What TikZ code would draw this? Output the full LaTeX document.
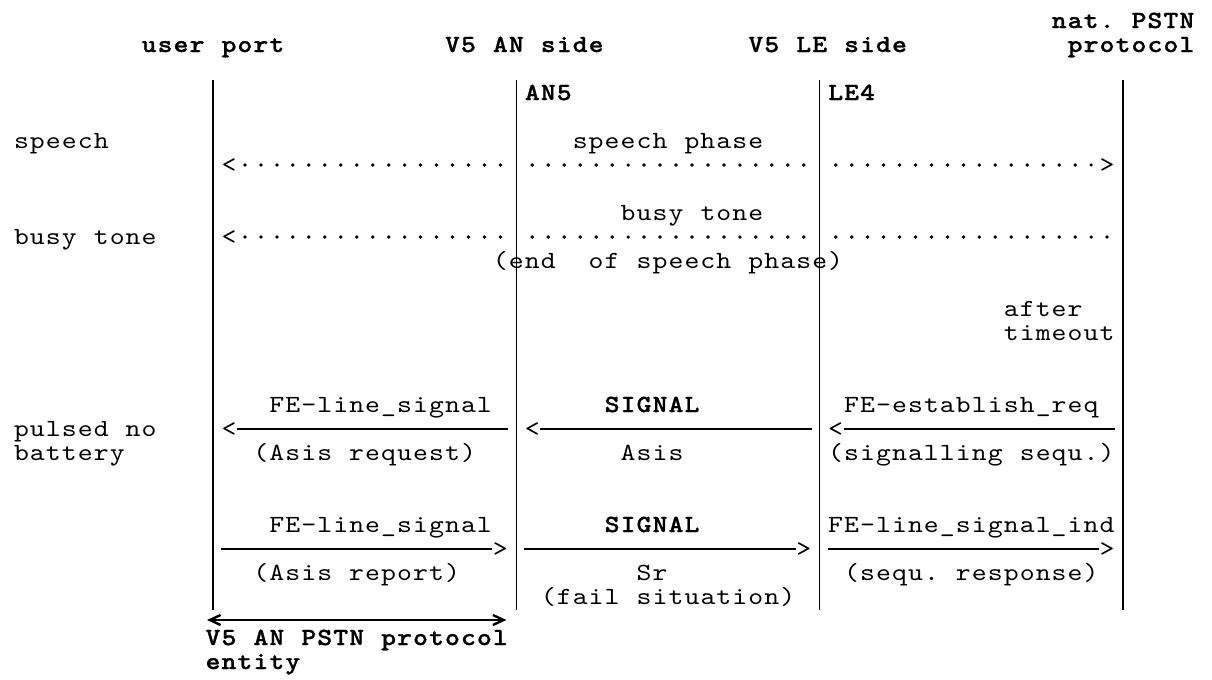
\documentclass[tikz,border=0pt]{standalone}
\usepackage{fontspec}
\usetikzlibrary{calc,arrows.meta}

% typewriter faces, slightly widened to fill the character cells
\newfontfamily\cmono{lmmono10-regular.otf}[FakeStretch=1.15]
\newfontfamily\cmonob{lmmonolt10-bold.otf}[FakeStretch=1.15,FakeBold=1]

% one fixed-width cell per character, so every label sits on a monospace grid
\newdimen\cellw
\cellw=11.974pt
\ExplSyntaxOn
\NewDocumentCommand\mono{m}{\str_map_inline:nn {#1} {\makebox[\cellw]{##1}}}
\ExplSyntaxOff
\newcommand\blankcell{\hspace*{\cellw}}

\tikzset{
  txt/.style={inner sep=0pt, outer sep=0pt, anchor=base west,
              font=\fontsize{18.5}{18.5}\cmono},
  btxt/.style={txt, font=\fontsize{18.5}{18.5}\cmonob},
  lifeline/.style={line width=1.1pt},
  msg/.style={line width=0.95pt},
  dotrow/.style={line width=2.8pt, line cap=round, dash pattern=on 0pt off 11.974pt},
  entityline/.style={line width=2pt,
     {Straight Barb[length=8pt,width=7.5pt,line width=1.8pt]}-{Straight Barb[length=8pt,width=7.5pt,line width=1.8pt]}}
}

\begin{document}
\begin{tikzpicture}[x=0.75pt, y=-0.75pt,
  declare function={cl(\c)=-2.5+15.965*\c; cc(\c)=-2.5+15.965*(\c+0.5);}]
\fill[white] (0,0) rectangle (1212,679);
\useasboundingbox (0,0) rectangle (1212,679);

% column headings
\node[btxt] (hNat)  at ({cl(66)},28) {\mono{nat. PSTN}};
\node[btxt] (hUser) at ({cl(9)},52)  {\mono{user port}};
\node[btxt] (hAN)   at ({cl(28)},52) {\mono{V5 AN side}};
\node[btxt] (hLE)   at ({cl(47)},52) {\mono{V5 LE side}};
\node[btxt] (hProt) at ({cl(67)},52) {\mono{protocol}};

% life lines
\coordinate (uTop) at ({cc(13)},80);  \coordinate (uBot) at ({cc(13)},610);
\coordinate (aTop) at ({cc(32)},80);  \coordinate (aBot) at ({cc(32)},610);
\coordinate (lTop) at ({cc(51)},80);  \coordinate (lBot) at ({cc(51)},610);
\coordinate (pTop) at ({cc(70)},80);  \coordinate (pBot) at ({cc(70)},610);
\draw[lifeline] (uTop) -- (uBot);
\draw[lifeline] (aTop) -- (aBot);
\draw[lifeline] (lTop) -- (lBot);
\draw[lifeline] (pTop) -- (pBot);

\node[btxt] (an5) at ({cl(33)},100) {\mono{AN5}};
\node[btxt] (le4) at ({cl(52)},100) {\mono{LE4}};

% speech phase
\node[txt] (lSpeech) at ({cl(1)},148)  {\mono{speech}};
\node[txt] (tSpeech) at ({cl(36)},148) {\mono{speech phase}};
\node[txt] (spL) at ({cl(14)},172) {\mono{<}};
\node[txt] (spR) at ({cl(69)},172) {\mono{>}};
\coordinate (sp1a) at ({cc(15)},165); \coordinate (sp1b) at ({cc(31)+1},165);
\coordinate (sp2a) at ({cc(33)},165); \coordinate (sp2b) at ({cc(50)+1},165);
\coordinate (sp3a) at ({cc(52)},165); \coordinate (sp3b) at ({cc(68)+1},165);
\draw[dotrow] (sp1a) -- (sp1b);
\draw[dotrow] (sp2a) -- (sp2b);
\draw[dotrow] (sp3a) -- (sp3b);

% busy tone
\node[txt] (tBusy) at ({cl(39)},220) {\mono{busy tone}};
\node[txt] (lBusy) at ({cl(1)},244)  {\mono{busy tone}};
\node[txt] (btL) at ({cl(14)},244) {\mono{<}};
\coordinate (bt1a) at ({cc(15)},237); \coordinate (bt1b) at ({cc(31)+1},237);
\coordinate (bt2a) at ({cc(33)},237); \coordinate (bt2b) at ({cc(50)+1},237);
\coordinate (bt3a) at ({cc(52)},237); \coordinate (bt3b) at ({cc(69)+1},237);
\draw[dotrow] (bt1a) -- (bt1b);
\draw[dotrow] (bt2a) -- (bt2b);
\draw[dotrow] (bt3a) -- (bt3b);
\node[txt] (endSp) at ({cl(31)},268) {\mono{(end}\blankcell\blankcell\mono{of speech phase)}};

\node[txt] (after)   at ({cl(63)},316) {\mono{after}};
\node[txt] (timeout) at ({cl(63)},340) {\mono{timeout}};

% establish request towards the user port
\node[txt]  (fe1)  at ({cl(17)},412) {\mono{FE-line_signal}};
\node[btxt] (sig1) at ({cl(38)},412) {\mono{SIGNAL}};
\node[txt]  (est)  at ({cl(53)},412) {\mono{FE-establish_req}};
\node[txt] (lPulsed) at ({cl(1)},436) {\mono{pulsed no}};
\node[txt] (lBatt)   at ({cl(1)},460) {\mono{battery}};
\node[txt] (r1L) at ({cl(14)},436) {\mono{<}};
\node[txt] (r2L) at ({cl(33)},436) {\mono{<}};
\node[txt] (r3L) at ({cl(52)},436) {\mono{<}};
\coordinate (r1a) at ({cl(15)},429); \coordinate (r1b) at ({cl(32)},429);
\coordinate (r2a) at ({cl(34)},429); \coordinate (r2b) at ({cl(51)},429);
\coordinate (r3a) at ({cl(53)},429); \coordinate (r3b) at ({cl(70)},429);
\draw[msg] (r1a) -- (r1b);
\draw[msg] (r2a) -- (r2b);
\draw[msg] (r3a) -- (r3b);
\node[txt] (asisReq) at ({cl(16)},460) {\mono{(Asis request)}};
\node[txt] (asis)    at ({cl(39)},460) {\mono{Asis}};
\node[txt] (sigSeq)  at ({cl(52)},460) {\mono{(signalling sequ.)}};

% report towards the exchange
\node[txt]  (fe2)  at ({cl(17)},532) {\mono{FE-line_signal}};
\node[btxt] (sig2) at ({cl(38)},532) {\mono{SIGNAL}};
\node[txt]  (ind)  at ({cl(52)},532) {\mono{FE-line_signal_ind}};
\node[txt] (s1R) at ({cl(31)},556) {\mono{>}};
\node[txt] (s2R) at ({cl(50)},556) {\mono{>}};
\node[txt] (s3R) at ({cl(69)},556) {\mono{>}};
\coordinate (s1a) at ({cl(14)},549); \coordinate (s1b) at ({cl(31)},549);
\coordinate (s2a) at ({cl(33)},549); \coordinate (s2b) at ({cl(50)},549);
\coordinate (s3a) at ({cl(52)},549); \coordinate (s3b) at ({cl(69)},549);
\draw[msg] (s1a) -- (s1b);
\draw[msg] (s2a) -- (s2b);
\draw[msg] (s3a) -- (s3b);
\node[txt] (asisRep) at ({cl(16)},580) {\mono{(Asis report)}};
\node[txt] (sr)      at ({cl(40)},580) {\mono{Sr}};
\node[txt] (seqResp) at ({cl(53)},580) {\mono{(sequ. response)}};
\node[txt] (fail)    at ({cl(34)},604) {\mono{(fail situation)}};

% extent of the AN protocol entity
\coordinate (ea) at ({cl(13)+2},620); \coordinate (eb) at ({cl(32)-2},620);
\draw[entityline] (ea) -- (eb);
\node[btxt] (ent1) at ({cl(13)},645) {\mono{V5 AN PSTN protocol}};
\node[btxt] (ent2) at ({cl(13)},669) {\mono{entity}};
\end{tikzpicture}
\end{document}
